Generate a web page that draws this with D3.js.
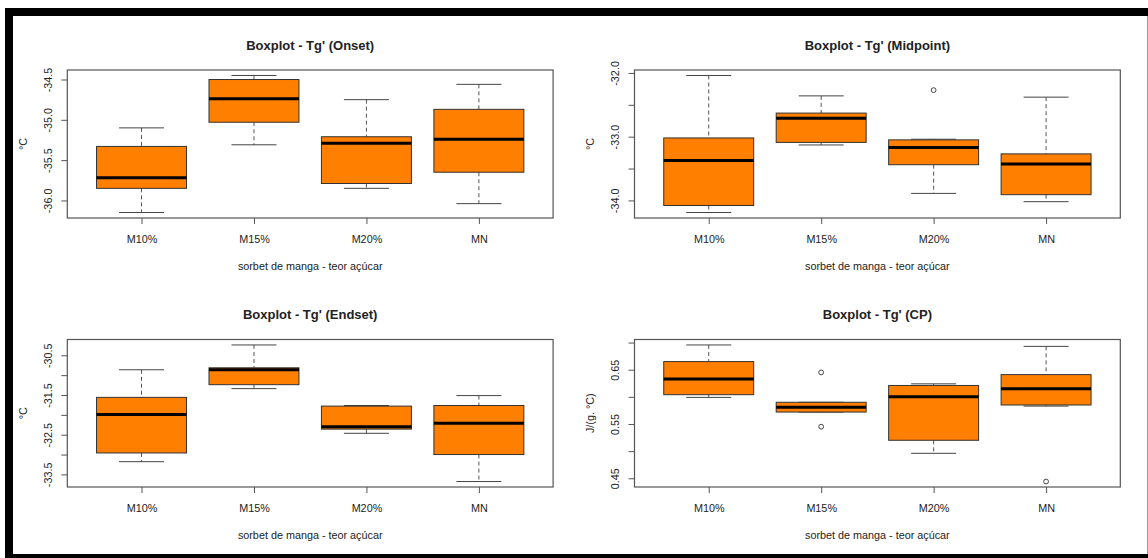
<!DOCTYPE html>
<html>
<head>
<meta charset="utf-8">
<script src="https://cdn.jsdelivr.net/npm/d3@7"></script>
<style>
  html, body { margin: 0; padding: 0; background: #fff; }
  svg { display: block; }
  text { font-family: "Liberation Sans", Arial, Helvetica, sans-serif; fill: #222; }
</style>
</head>
<body>
<svg id="chart" width="1148" height="558"></svg>
<script>
// Sugar-content groups of the mango sorbet
const categories = ["M10%", "M15%", "M20%", "MN"];

// Five-number summaries per group: [lower whisker, Q1, median, Q3, upper whisker]
const onsetStats = [
  [-36.15, -35.85, -35.72, -35.33, -35.10],
  [-35.31, -35.03, -34.74, -34.50, -34.45],
  [-35.85, -35.79, -35.29, -35.21, -34.75],
  [-36.04, -35.65, -35.24, -34.87, -34.56]
];
const onsetOutliers = [[], [], [], []];

const midpointStats = [
  [-34.19, -34.08, -33.375, -33.02, -32.04],
  [-33.13, -33.09, -32.71, -32.63, -32.36],
  [-33.89, -33.44, -33.17, -33.05, -33.04],
  [-34.02, -33.91, -33.43, -33.27, -32.38]
];
const midpointOutliers = [[], [], [-32.27], []];

const endsetStats = [
  [-33.18, -32.96, -31.99, -31.56, -30.865],
  [-31.34, -31.24, -30.865, -30.815, -30.24],
  [-32.465, -32.36, -32.30, -31.78, -31.765],
  [-33.68, -33.00, -32.215, -31.765, -31.515]
];
const endsetOutliers = [[], [], [], []];

const cpStats = [
  [0.599, 0.604, 0.633, 0.665, 0.6956],
  [0.572, 0.572, 0.581, 0.590, 0.590],
  [0.496, 0.520, 0.600, 0.621, 0.624],
  [0.583, 0.585, 0.615, 0.641, 0.693]
];
const cpOutliers = [[], [0.645, 0.545], [], [0.444]];

// Axis ticks and the subset of ticks that carry a label
const onsetTicks = [-36.0, -35.5, -35.0, -34.5];
const onsetLabels = [-36.0, -35.5, -35.0, -34.5];
const midpointTicks = [-34.0, -33.5, -33.0, -32.5, -32.0];
const midpointLabels = [-34.0, -33.0, -32.0];
const endsetTicks = [-33.5, -33.0, -32.5, -32.0, -31.5, -31.0, -30.5];
const endsetLabels = [-33.5, -32.5, -31.5, -30.5];
const cpTicks = [0.45, 0.50, 0.55, 0.60, 0.65, 0.70];
const cpLabels = [0.45, 0.55, 0.65];

const titles = ["Boxplot - Tg' (Onset)", "Boxplot - Tg' (Midpoint)", "Boxplot - Tg' (Endset)", "Boxplot - Tg' (CP)"];
const yTitles = ["°C", "°C", "°C", "J/(g. °C)"];
const xTitle = "sorbet de manga - teor açúcar";

const svg = d3.select("#chart");
const FONT = 10.8;

// Outer frame
svg.append("rect").attr("x", 5).attr("y", 8).attr("width", 1143).attr("height", 8).attr("fill", "#000");
svg.append("rect").attr("x", 5).attr("y", 8).attr("width", 8).attr("height", 550).attr("fill", "#000");
svg.append("rect").attr("x", 5).attr("y", 554).attr("width", 1143).attr("height", 4).attr("fill", "#000");
svg.append("line").attr("x1", 1147.5).attr("x2", 1147.5).attr("y1", 16).attr("y2", 554)
  .attr("stroke", "#9a9a9a").attr("stroke-width", 1);

const cols = [[67.3, 553.1], [634.5, 1120.3]];
const rows = [[70, 218], [339.5, 487]];

const panels = [
  { stats: onsetStats, outliers: onsetOutliers, ticks: onsetTicks, labels: onsetLabels, digits: 1, col: 0, row: 0 },
  { stats: midpointStats, outliers: midpointOutliers, ticks: midpointTicks, labels: midpointLabels, digits: 1, col: 1, row: 0 },
  { stats: endsetStats, outliers: endsetOutliers, ticks: endsetTicks, labels: endsetLabels, digits: 1, col: 0, row: 1 },
  { stats: cpStats, outliers: cpOutliers, ticks: cpTicks, labels: cpLabels, digits: 2, col: 1, row: 1 }
];

panels.forEach((p, i) => {
  const [x0, x1] = cols[p.col];
  const [y0, y1] = rows[p.row];

  // R-style ranges: groups at 1..n, value range padded by 4%
  const x = d3.scaleLinear().domain([0.34, categories.length + 0.66]).range([x0, x1]);
  const all = p.stats.flat().concat(p.outliers.flat());
  const [lo, hi] = d3.extent(all);
  const pad = (hi - lo) * 0.04;
  const y = d3.scaleLinear().domain([lo - pad, hi + pad]).range([y1, y0]);

  const g = svg.append("g");
  const boxW = x(1.4) - x(0.6);
  const capW = boxW / 2;

  const groups = g.selectAll("g.grp").data(p.stats).enter().append("g").attr("class", "grp");

  // Whiskers (dashed)
  groups.append("line")
    .attr("x1", (d, j) => x(j + 1)).attr("x2", (d, j) => x(j + 1))
    .attr("y1", d => y(d[4])).attr("y2", d => y(d[3]))
    .attr("stroke", "#555").attr("stroke-width", 1).attr("stroke-dasharray", "4,3");
  groups.append("line")
    .attr("x1", (d, j) => x(j + 1)).attr("x2", (d, j) => x(j + 1))
    .attr("y1", d => y(d[1])).attr("y2", d => y(d[0]))
    .attr("stroke", "#555").attr("stroke-width", 1).attr("stroke-dasharray", "4,3");
  // Whisker caps
  [0, 4].forEach(k => {
    groups.append("line")
      .attr("x1", (d, j) => x(j + 1) - capW / 2).attr("x2", (d, j) => x(j + 1) + capW / 2)
      .attr("y1", d => y(d[k])).attr("y2", d => y(d[k]))
      .attr("stroke", "#444").attr("stroke-width", 1);
  });
  // Boxes
  groups.append("rect")
    .attr("x", (d, j) => x(j + 1) - boxW / 2)
    .attr("y", d => y(d[3]))
    .attr("width", boxW)
    .attr("height", d => Math.max(1, y(d[1]) - y(d[3])))
    .attr("fill", "#FF7F00").attr("stroke", "#333").attr("stroke-width", 1);
  // Medians
  groups.append("line")
    .attr("x1", (d, j) => x(j + 1) - boxW / 2).attr("x2", (d, j) => x(j + 1) + boxW / 2)
    .attr("y1", d => y(d[2])).attr("y2", d => y(d[2]))
    .attr("stroke", "#000").attr("stroke-width", 3);

  // Outliers
  const outPts = [];
  p.outliers.forEach((arr, j) => arr.forEach(v => outPts.push({ j, v })));
  g.selectAll("circle.out").data(outPts).enter().append("circle")
    .attr("cx", d => x(d.j + 1)).attr("cy", d => y(d.v)).attr("r", 2.4)
    .attr("fill", "none").attr("stroke", "#444").attr("stroke-width", 1);

  // Plot frame
  g.append("rect").attr("x", x0).attr("y", y0).attr("width", x1 - x0).attr("height", y1 - y0)
    .attr("fill", "none").attr("stroke", "#555").attr("stroke-width", 1.2);

  // Y axis with rotated labels
  const yAxis = d3.axisLeft(y).tickValues(p.ticks).tickSizeInner(6).tickSizeOuter(0)
    .tickFormat(v => p.labels.some(l => Math.abs(l - v) < 1e-9) ? v.toFixed(p.digits) : "");
  const ya = g.append("g").attr("transform", `translate(${x0},0)`).call(yAxis);
  ya.select(".domain").remove();
  ya.selectAll(".tick line").attr("stroke", "#555");
  ya.selectAll(".tick text")
    .attr("x", 0).attr("dy", "0.35em")
    .attr("transform", "translate(-19,0) rotate(-90)")
    .attr("text-anchor", "middle")
    .style("font-size", FONT + "px").style("font-family", null).attr("fill", "#222");

  // X axis with category labels
  const xAxis = d3.axisBottom(x).tickValues(categories.map((c, j) => j + 1)).tickSizeInner(6).tickSizeOuter(0)
    .tickFormat((v, j) => categories[j]);
  const xa = g.append("g").attr("transform", `translate(0,${y1})`).call(xAxis);
  xa.select(".domain").remove();
  xa.selectAll(".tick line").attr("stroke", "#555");
  xa.selectAll(".tick text").attr("y", 21).attr("dy", "0.35em")
    .style("font-size", FONT + "px").style("font-family", null).attr("fill", "#222");

  const cx = (x0 + x1) / 2;
  // Title
  g.append("text").attr("x", cx).attr("y", y0 - 25).attr("dy", "0.35em")
    .attr("text-anchor", "middle").style("font-size", "13px").style("font-weight", "bold")
    .attr("fill", "#111").text(titles[i]);
  // X title
  g.append("text").attr("x", cx).attr("y", y1 + 48).attr("dy", "0.35em")
    .attr("text-anchor", "middle").style("font-size", FONT + "px").text(xTitle);
  // Y title
  g.append("text")
    .attr("transform", `translate(${x0 - 44},${(y0 + y1) / 2}) rotate(-90)`)
    .attr("dy", "0.35em").attr("text-anchor", "middle")
    .style("font-size", FONT + "px").text(yTitles[i]);
});
</script>
</body>
</html>
